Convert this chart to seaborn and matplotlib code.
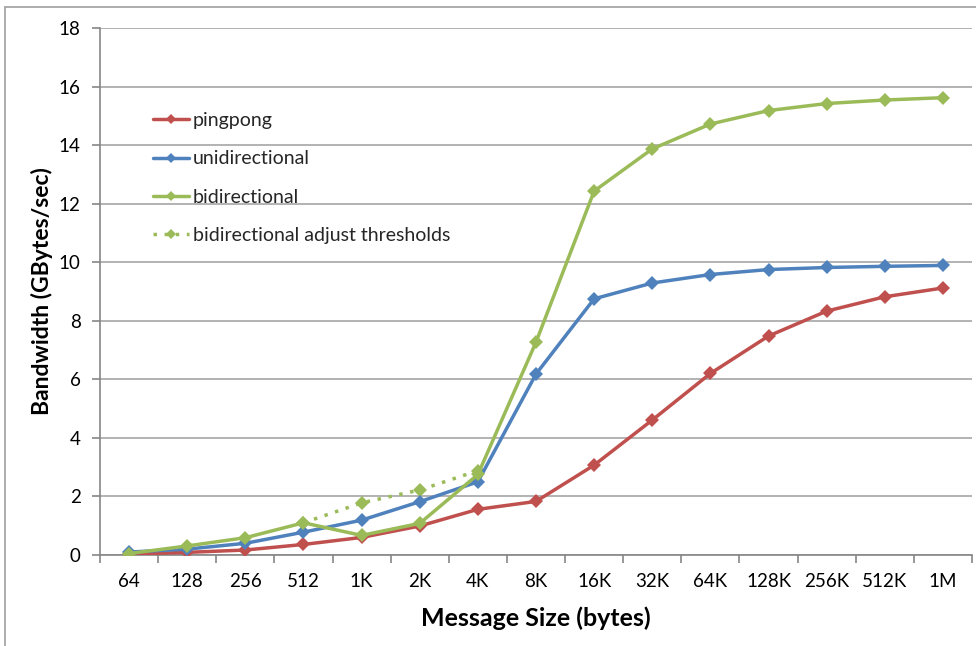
import numpy as np
import pandas as pd
import matplotlib
matplotlib.use("Agg")
import matplotlib.pyplot as plt
from matplotlib.lines import Line2D
from matplotlib.ticker import FixedLocator, MultipleLocator
import seaborn as sns

sizes = ["64", "128", "256", "512", "1K", "2K", "4K", "8K", "16K", "32K",
         "64K", "128K", "256K", "512K", "1M"]
pingpong = [0.03, 0.09, 0.17, 0.36, 0.60, 0.99, 1.56, 1.83, 3.07, 4.61,
            6.20, 7.48, 8.33, 8.82, 9.12]
unidirectional = [0.10, 0.20, 0.40, 0.78, 1.19, 1.82, 2.50, 6.18, 8.75, 9.29,
                  9.58, 9.75, 9.82, 9.86, 9.89]
bidirectional = [0.05, 0.31, 0.59, 1.10, 0.67, 1.08, 2.75, 7.27, 12.43, 13.87,
                 14.72, 15.18, 15.42, 15.54, 15.62]
adjust_sizes = ["512", "1K", "2K", "4K"]
adjust_vals = [1.10, 1.78, 2.22, 2.88]

series_names = ["pingpong", "unidirectional", "bidirectional"]
colors = {"pingpong": "#C0504D", "unidirectional": "#4F81BD",
          "bidirectional": "#9BBB59"}

sns.set_theme(style="white")
plt.rcParams["font.family"] = ["Lato", "DejaVu Sans"]

rows = []
for name, vals in zip(series_names, [pingpong, unidirectional, bidirectional]):
    for i, (s, v) in enumerate(zip(sizes, vals)):
        rows.append({"idx": i, "size": s, "bw": v, "series": name})
df = pd.DataFrame(rows)
adj_df = pd.DataFrame({"idx": [sizes.index(s) for s in adjust_sizes],
                       "bw": adjust_vals})

W, H = 976, 646
fig = plt.figure(figsize=(W / 100, H / 100), dpi=100)
ax = fig.add_axes([100 / W, (H - 555) / H, 872 / W, 527 / H])

ax.set_ylim(0, 18)
ax.set_xlim(-0.5, len(sizes) - 0.5)
ax.yaxis.set_major_locator(MultipleLocator(2))
ax.grid(axis="y", color="#A6A6A6", linewidth=1.2)
ax.grid(axis="x", visible=False)
ax.set_axisbelow(True)

sns.lineplot(data=adj_df, x="idx", y="bw", ax=ax, color=colors["bidirectional"],
             linestyle=(0, (1, 2.2)), linewidth=2.5, marker="D", markersize=7,
             markeredgewidth=0, zorder=2)

for name in series_names:
    sub = df[df["series"] == name]
    sns.lineplot(data=sub, x="idx", y="bw", ax=ax, color=colors[name],
                 linewidth=2.5, marker="D", markersize=7, markeredgewidth=0,
                 zorder=3)

for side in ["top", "right"]:
    ax.spines[side].set_visible(False)
for side in ["left", "bottom"]:
    ax.spines[side].set_color("#868686")
    ax.spines[side].set_linewidth(1.2)

ax.set_xticks(range(len(sizes)))
ax.set_xticklabels(sizes)
ax.xaxis.set_minor_locator(FixedLocator(np.arange(-0.5, len(sizes), 1.0)))
ax.tick_params(axis="x", which="major", length=0, pad=13, labelsize=13.5,
               labelcolor="black")
ax.tick_params(axis="x", which="minor", length=6, width=1.2, color="#868686",
               direction="out", bottom=True)
ax.tick_params(axis="y", which="major", length=6, width=1.2, color="#868686",
               direction="out", left=True, pad=8, labelsize=13.5,
               labelcolor="black")

ax.set_xlabel("Message Size (bytes)", fontsize=18, fontweight="bold",
              labelpad=12, color="black")
ax.set_ylabel("Bandwidth (GBytes/sec)", fontsize=16.5, fontweight="bold",
              color="black")
ax.yaxis.set_label_coords(-47 / 872, 0.5)

handles = [
    Line2D([], [], color=colors["pingpong"], lw=2.5, marker="D", ms=5, mew=0),
    Line2D([], [], color=colors["unidirectional"], lw=2.5, marker="D", ms=5, mew=0),
    Line2D([], [], color=colors["bidirectional"], lw=2.5, marker="D", ms=5, mew=0),
    Line2D([], [], color=colors["bidirectional"], lw=2.5, ls=(0, (1, 2.2)),
           marker="D", ms=5, mew=0),
]
labels = ["pingpong", "unidirectional", "bidirectional",
          "bidirectional adjust thresholds"]
leg = ax.legend(handles, labels, loc="upper left",
                bbox_to_anchor=(153 / W, (H - 112) / H),
                bbox_transform=fig.transFigure, frameon=False,
                fontsize=14, handlelength=1.85, handletextpad=0.2,
                labelspacing=1.1, borderaxespad=0, borderpad=0)

fig.add_artist(Line2D([5 / W, 5 / W], [0, (H - 7) / H], color="#A0A0A0",
                      lw=1.2, transform=fig.transFigure))
fig.add_artist(Line2D([5 / W, 1], [(H - 7) / H, (H - 7) / H], color="#A0A0A0",
                      lw=1.2, transform=fig.transFigure))

fig.savefig("out.png", dpi=100, facecolor="white")
